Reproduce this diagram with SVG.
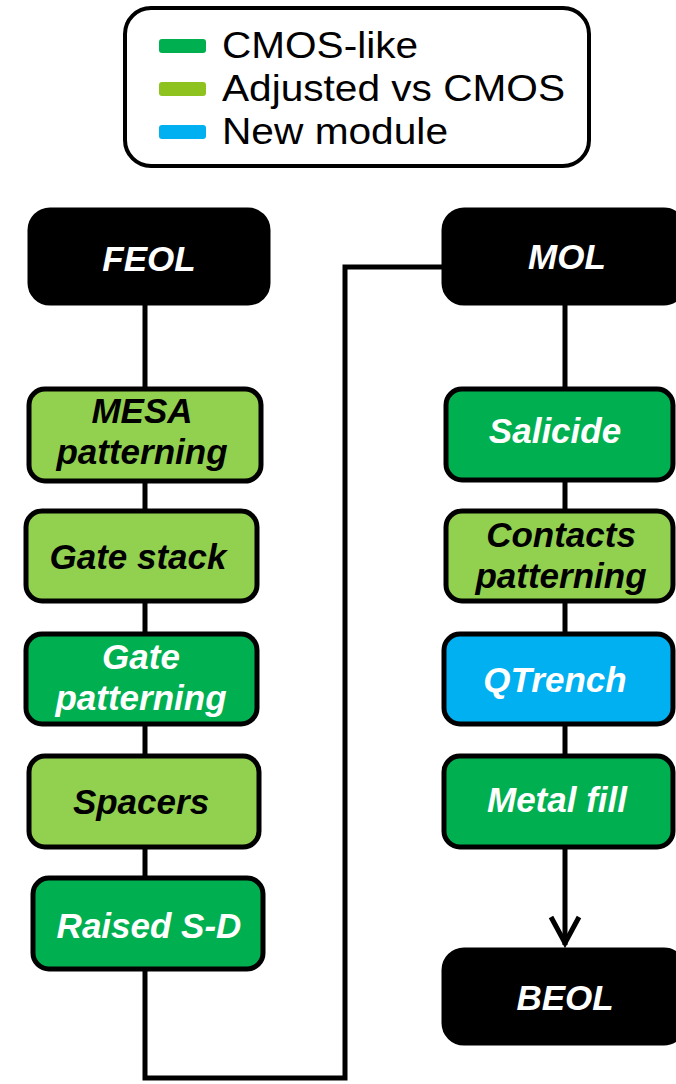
<svg xmlns="http://www.w3.org/2000/svg" width="676" height="1084" viewBox="0 0 676 1084">
<style>
.box{stroke:#000;stroke-width:5}
.blk{fill:#000;stroke:#000;stroke-width:5}
.lg{fill:#92D050}
.dg{fill:#00B050}
.bl{fill:#00B0F0}
.t{font-family:"Liberation Sans",Arial,sans-serif;font-weight:bold;font-style:italic;font-size:35px;text-anchor:middle}
.w{fill:#fff}
.k{fill:#000}
.leg{font-family:"Liberation Sans",Arial,sans-serif;font-size:36px;fill:#000}
.c{fill:none;stroke:#000;stroke-width:5}
</style>
<g id="legend">
<rect x="125" y="8" width="464" height="158" rx="26" fill="#fff" stroke="#000" stroke-width="4"/>
<rect x="159" y="39" width="47" height="14" rx="3" fill="#00B050"/>
<rect x="159" y="82" width="47" height="14" rx="3" fill="#8DC21F"/>
<rect x="159" y="125" width="47" height="14" rx="3" fill="#00B0F0"/>
<text class="leg" x="222" y="58" textLength="196" lengthAdjust="spacingAndGlyphs">CMOS-like</text>
<text class="leg" x="222" y="101" textLength="343" lengthAdjust="spacingAndGlyphs">Adjusted vs CMOS</text>
<text class="leg" x="222" y="144" textLength="226" lengthAdjust="spacingAndGlyphs">New module</text>
</g>
<g id="connectors">
<line class="c" x1="145" y1="305" x2="145" y2="877"/>
<path class="c" d="M145 970 V1078 H345 V267 H442"/>
<line class="c" x1="565" y1="305" x2="565" y2="945"/>
<path class="c" d="M551 917 L565 943 L579 917"/>
</g>
<g id="FEOL"><rect class="blk" x="30" y="210" width="238" height="93" rx="20"/><text class="t w" x="149" y="271">FEOL</text></g>
<g id="MOL"><rect class="blk" x="444" y="210" width="240" height="93" rx="20"/><text class="t w" x="567" y="269">MOL</text></g>
<g id="MESA"><rect class="box lg" x="29" y="389" width="232" height="92" rx="16"/><text class="t k" x="142" y="423">MESA</text><text class="t k" x="142" y="464">patterning</text></g>
<g id="GateStack"><rect class="box lg" x="26" y="511" width="231" height="90" rx="16"/><text class="t k" x="138" y="569">Gate stack</text></g>
<g id="GatePatterning"><rect class="box dg" x="26" y="634" width="231" height="90" rx="16"/><text class="t w" x="141" y="669">Gate</text><text class="t w" x="141" y="710">patterning</text></g>
<g id="Spacers"><rect class="box lg" x="29" y="756" width="230" height="91" rx="16"/><text class="t k" x="141" y="814">Spacers</text></g>
<g id="RaisedSD"><rect class="box dg" x="33" y="878" width="230" height="91" rx="16"/><text class="t w" x="149" y="938">Raised S-D</text></g>
<g id="Salicide"><rect class="box dg" x="446" y="389" width="227" height="91" rx="16"/><text class="t w" x="555" y="443">Salicide</text></g>
<g id="Contacts"><rect class="box lg" x="446" y="511" width="227" height="90" rx="16"/><text class="t k" x="561" y="547">Contacts</text><text class="t k" x="561" y="588">patterning</text></g>
<g id="QTrench"><rect class="box bl" x="444" y="634" width="229" height="90" rx="16"/><text class="t w" x="555" y="692">QTrench</text></g>
<g id="MetalFill"><rect class="box dg" x="444" y="756" width="229" height="91" rx="16"/><text class="t w" x="557" y="812">Metal fill</text></g>
<g id="BEOL"><rect class="blk" x="444" y="950" width="240" height="93" rx="20"/><text class="t w" x="565" y="1010">BEOL</text></g>
</svg>
